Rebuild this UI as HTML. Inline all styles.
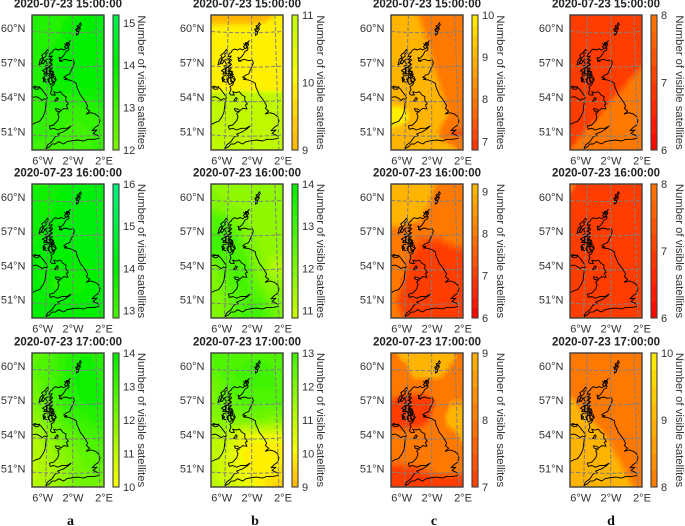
<!DOCTYPE html>
<html lang="en">
<head>
<meta charset="utf-8">
<title>Number of visible satellites over the UK</title>
<style>
html,body{margin:0;padding:0;background:#fff;width:685px;height:526px;overflow:hidden}
svg{display:block;font-family:"Liberation Sans",Arial,sans-serif}
</style>
</head>
<body>
<svg id="figure" width="685" height="526" viewBox="0 0 685 526" xmlns="http://www.w3.org/2000/svg">
<defs>
<filter id="soften" x="-10%" y="-10%" width="120%" height="120%"><feGaussianBlur stdDeviation="0.9"/></filter>
</defs>
</svg>
<script>
// ---------- chart data ----------
const timeLabels = ["2020-07-23 15:00:00", "2020-07-23 16:00:00", "2020-07-23 17:00:00"];
const columnLetters = ["a", "b", "c", "d"];
const latTicks = [60, 57, 54, 51];
const lonTicks = [-6, -2, 2];

const a1 = [
[13.4,13.4,13.4,13.6,14,14.1,14.2],[13.4,13.4,13.5,13.9,14,14.1,14.2],[13.4,13.5,13.7,14,14,14.1,14.1],
[13.4,13.6,13.9,14,14,14,14],[13.4,13.6,13.8,13.9,14,14,14],[13.3,13.4,13.6,13.5,13.5,13.6,13.8],
[13.3,13.3,13.3,13.2,13.2,13.3,13.5],[13.3,13.2,13.2,13,13,13.1,13.3],[13,13,13,13,13,13.1,13.3]];
const b1 = [
[9,9,9,9,9,9.4,10],[10,10,10,10,10,10,10],[10,10,10,10,10,10,10],
[10,10,10,10,10,10,10],[10,10,10,10,10,10,10],[11,11,11,11,11,11,11],
[11,11,11,11,11,11,11],[11,11,11,11,11,11,11],[11,11,11,11,11,11,11]];
const c1 = [
[9,9,8.65,8.15,8,8,8],[9,9,8.86,8.36,8,8,8],[9,9,9,8.61,8.11,8,8],
[9,9,9,8.75,8.25,8,8],[9,9,9,8.99,8.49,8,8],[9.2,9,9,9,8.72,8.22,8],
[10,10,9,9,8.9,8.4,8],[9.3,9,9,9,8.5,7.4,7.4],[9,9,9,9,9,9,8]];
const d1 = [
[7,7,7,7,7,7,7],[7,7,7,7,7,7,7],[7,7,7,7,7,7,7],
[7,7,7,7,7,7,7.5],[7,7,7,7,7.14,7.64,8],[7,7,7,7.26,7.76,8,8],
[7,7,7.32,7.82,8,8,8],[7,7.44,7.94,8,8,8,8],[7.5,8,8,8,8,8,8]];

const a2 = [
[13.6,13.6,13.7,14,14.2,14.3,14.3],[13.7,13.7,13.9,14.2,14.3,14.3,14.3],[13.7,13.7,14,14.2,14.3,14.3,14.3],
[13.7,13.9,14.1,14.2,14.3,14.3,14.3],[13.9,14,14.1,14.1,14.2,14.2,14.2],[13.9,13.8,13.8,13.9,13.9,14.1,14.2],
[14,13.8,13.5,13.8,13.7,14,14.2],[14,14,13.9,13.9,14,14.1,14.2],[14,14,14,14,14,14.1,14.1]];
const b2 = [
[11.7,11.7,11.7,11.7,11.7,11.7,11.7],[12,11.7,11.7,11.7,11.7,11.7,11.7],[12.7,12.6,12,11.7,11.7,11.7,11.7],
[12.8,12.8,12.7,12,11.7,11.7,11.7],[12.8,12.8,12.8,12.5,11.8,11.7,11.6],[12,12.6,12.8,12.7,12,11.3,11.2],
[12,12.3,12.8,12.8,12.4,11.8,11.7],[12,12.2,12.6,12.8,12.8,12.3,12],[12,12.2,12.7,12.9,12.9,12.6,12.2]];
const c2 = [
[9,9,9,8.85,8.35,8,8],[9,9,9,8.64,8.14,8,8],[9,9,8.8,8.3,8,8,8],
[8,8,7.66,7.66,7.66,7.86,7.91],[8,7.97,7.47,7.16,7.16,7.36,7.41],[8,7.67,7.17,7,7,7,7],
[8,7.5,7,7,7,7,7],[7.75,7.25,7,7,7,7,7],[8,7.53,7.03,7,7,7,6.8]];
const d2 = [
[8,7,7,7,7,7,7],[7,7,7,7,7,7,7],[7,7,7,7,7,7,7],
[7,7,7,7,7,7,7],[7,7,7,7,7,7,7],[7,7,7,7,7,7,7],
[7,7,7,7,7,7,7],[7,7,7,7,7,7,7],[7,7,7,7,7,7,7]];

const a3 = [
[12.5,12.6,13,13.4,13.6,13.6,13.4],[12.6,12.8,13,13.5,13.7,13.7,13.5],[12.2,12.6,13,13.5,13.7,13.7,13.6],
[12,12.4,12.9,13.3,13.6,13.7,13.6],[11.7,12,12.5,13,13.1,13.4,13.4],[11.2,11.6,12,12.4,12.7,12.9,13],
[11.1,11.3,11.7,12,12.4,12.6,12.7],[11,11.2,11.4,11.8,12.3,12.4,12.6],[11.1,11.3,11.6,12,12.3,12.2,11.9]];
const b3 = [
[12.7,12.7,12.7,12.7,12.8,12.8,12.8],[12.5,12.8,12.9,13,13,12.9,12.8],[12.1,12.5,12.8,12.9,12.9,12.9,12.8],
[12,12.3,12.5,12.7,12.7,12.7,12.7],[11.8,12,12,12,12.1,12,12],[11.2,11.1,10.6,10.2,10.2,10.2,10.2],
[11,10.8,10.3,10,10,10,10],[11,10.7,10.4,10.1,10,10,9.8],[11,10.9,10.7,10.4,10.1,9.6,9.4]];
const c3 = [
[8,9,9,9,9,8.9,8],[8,8,9,9,9,8.3,8],[8,8,8,8,8,8,8],
[7.4,7,7,7,7.8,8.5,8.5],[7,7,7,7.4,8,9,9],[8,8,8,8,8,8,8.8],
[8,8,8,8,8,8,8],[7.3,7.3,7.4,7.6,7.7,7.7,7.7],[7,7,7,7,7,7,7]];
const d3 = [
[8,8,8,8,8,8,8],[8,8,8,8,8,8,8],[8,8,8,8,8,8,8],
[8.78,8.28,8,8,8,8,8],[9,8.9,8.4,8,8,8,8],[9,9,9,8.53,8.03,8,8],
[9,9,9,8.88,8.38,8,8],[9,9,9,9,8.76,8.26,8],[9,9,9,9,9,8.64,8.14]];

const panelGrids = [[a1,b1,c1,d1],[a2,b2,c2,d2],[a3,b3,c3,d3]];
const colorbarMin = [[12,9,6.8,6],[12.83,10.83,6,6],[10,9,7,8]];
const colorbarMax = [[15.19,11,10,8],[16,14,9.18,8],[14,13,9,10]];
const colorbarTicks = [
 [[12,13,14,15],[9,10,11],[7,8,9,10],[6,7,8]],
 [[13,14,15,16],[11,12,13,14],[6,7,8,9],[6,7,8]],
 [[10,11,12,13,14],[9,10,11,12,13],[7,8,9],[8,9,10]]
];

// ---------- layout ----------
const colLeft = [32, 211, 391, 570];
const rowTop = [15, 184, 353];
const rowHeight = [135, 134, 134];
const panelW = 72, CELL = 3;
const contourSharpness = [[1,3,3,3],[1,1.3,3,3],[1,1,3,3]];

// base-map outlines, in a 218 x 405 map space
const coastLines = [
 "M158 152L165 147L175 150L182 146L190 150L198 145L206 143L205 150L196 155L193 162L187 170L180 176L176 172L178 180L185 184L177 183L195 178L208 182L219 180L222 188L218 200L212 212L208 222L198 226L190 232L200 235L192 238L208 240L220 245L228 250L230 262L236 275L240 285L248 295L255 305L262 318L258 325L268 333L258 342L272 338L285 342L295 350L299 362L295 375L285 382L275 392L290 390L278 400L296 408L298 415L280 418L262 418L250 423L232 420L215 422L200 425L190 432L175 425L165 432L155 432L148 440L135 447L142 435L155 425L165 410L178 408L172 402L190 395L205 385L212 378L200 385L185 385L172 390L160 385L150 388L147 378L160 375L172 362L176 350L172 340L180 335L168 333L165 326L175 327L182 332L190 325L203 327L198 315L204 312L196 300L197 290L188 285L180 275L170 278L160 275L165 285L155 285L150 280L155 268L152 260L160 255L166 240L158 232L162 222L152 226L158 214L150 212L156 204L148 200L156 194L150 188L157 180L150 176L156 168L146 170L150 160L155 158Z",
 "M116 195L120 178L128 172L124 166L134 158L142 148L145 156L136 162L138 168L128 176L124 190Z",
 "M128 178L134 184L128 192L122 188Z",
 "M136 180L146 176L152 184L146 188L156 192L148 198L140 206L134 198L144 194L138 188Z",
 "M142 200L150 206L146 214L152 220L142 222L138 212Z",
 "M126 212L136 206L142 212L136 216L140 222L130 222L134 216Z",
 "M132 228L146 226L150 234L142 238L146 246L136 246L130 238Z",
 "M146 234L156 232L154 244L160 248L150 254L146 244Z",
 "M152 226L164 230L168 240L160 246L154 238Z",
 "M128 232L136 238L130 246Z",
 "M150 214L160 216L156 226L148 224Z",
 "M240 68L236 76L230 78L233 84L226 88L230 96L228 106L234 102L236 92L240 88L238 80L243 74Z",
 "M232 80L238 84L228 92L236 96",
 "M210 122L204 128L198 128L200 134L192 140L198 146L204 140L208 134L205 128Z",
 "M196 134L206 128L200 140M192 130L198 136",
 "M163 303L170 292L174 296L168 304Z",
 "M96 262L104 258L110 262L118 260L115 267L106 268L100 264L108 260L118 262L124 268L130 276L136 284L141 292L138 304L136 320L134 336L128 350L118 364L106 368L97 373",
 "M97 292L108 290L118 295L126 301L132 296L138 298"
];

// ---------- helpers ----------
const NS = "http://www.w3.org/2000/svg";
const svg = document.getElementById("figure");
const defs = svg.querySelector("defs");
function mk(tag, attrs, parent, text) {
  const el = document.createElementNS(NS, tag);
  for (const k in attrs) el.setAttribute(k, attrs[k]);
  if (text !== undefined) el.textContent = text;
  parent.appendChild(el);
  return el;
}
function colorFor(v) {
  const h = Math.max(0, Math.min(180, (v - 6) * 15));
  const g = 240;
  if (h <= 60) return "rgb(255," + Math.round(h / 60 * g) + ",0)";
  if (h <= 120) return "rgb(" + Math.round((120 - h) / 60 * 255) + "," + Math.round(g + (120 - h) / 60 * 12) + ",0)";
  return "rgb(0," + g + "," + Math.round((h - 120) / 60 * 255) + ")";
}
function sampleGrid(grid, u, v) {
  u = Math.max(0, Math.min(1, u));
  v = Math.max(0, Math.min(1, v));
  const ny = grid.length - 1, nx = grid[0].length - 1;
  const fx = Math.min(u * nx, nx - 1e-6), fy = Math.min(v * ny, ny - 1e-6);
  const i = Math.floor(fx), j = Math.floor(fy), tx = fx - i, ty = fy - j;
  return (grid[j][i] * (1 - tx) + grid[j][i + 1] * tx) * (1 - ty) +
         (grid[j + 1][i] * (1 - tx) + grid[j + 1][i + 1] * tx) * ty;
}
function sharpen(v, k) {
  if (k === 1) return v;
  const b = Math.floor(v), f = v - b;
  return b + Math.max(0, Math.min(1, (f - 0.5) * k + 0.5));
}
function quant(v) { return Math.round(v * 4) / 4; }
// projection: slight convergence of meridians toward the north
function lonX(lon, t) { // t: 0 top .. 1 bottom
  const atTop = 40.7 + (lon + 2) * 5.8, atBottom = 40.7 + (lon + 2) * 6.8;
  return atTop + (atBottom - atTop) * t;
}
function latY(lat, h) { return (17.3 + (60 - lat) * 11.5) * h / 135; }
function lonLabel(l) { return Math.abs(l) + "°" + (l < 0 ? "W" : "E"); }

// ---------- draw ----------
mk("rect", {x:0, y:0, width:685, height:526, fill:"#fff"}, svg);

rowTop.forEach(function (top, r) {
  colLeft.forEach(function (left, c) {
    const h = rowHeight[r], grid = panelGrids[r][c];
    const clipId = "clip-" + r + "-" + c;
    const clip = mk("clipPath", {id:clipId}, defs);
    mk("rect", {x:0, y:0, width:panelW, height:h}, clip);

    const panel = mk("g", {transform:"translate(" + left + "," + top + ")"}, svg);
    
    

    const title = mk("text", {x:36, y:-7.5, "text-anchor":"middle", "font-size":"11.5", "font-weight":"bold", fill:"#222"}, panel, timeLabels[r]);
    
    

    const clipG = mk("g", {"clip-path":"url(#" + clipId + ")"}, panel);
    
    

    const heat = mk("g", {filter:"url(#soften)"}, clipG);
    
    
    for (let y = -2 * CELL; y < h + 2 * CELL; y += CELL) {
      for (let x = -2 * CELL; x < panelW + 2 * CELL; x += CELL) {
        const val = sampleGrid(grid, (x + CELL / 2) / panelW, (y + CELL / 2) / h);
        const cell = mk("rect", {x:x, y:y, width:CELL + 0.5, height:CELL + 0.5, fill:colorFor(quant(sharpen(val, contourSharpness[r][c])))}, heat);
        
        
      }
    }

    const coast = mk("g", {transform:"scale(" + (1 / 3) + "," + (h / 405) + ") translate(-95,-45)", fill:"none", stroke:"#000", "stroke-width":"2.8", "stroke-linejoin":"round"}, clipG);
    
    
    coastLines.forEach(function (d) {
      const p = mk("path", {d:d}, coast);
      
      
    });

    const gridG = mk("g", {fill:"none", stroke:"#808080", "stroke-width":"1", "stroke-dasharray":"4 2"}, clipG);
    
    
    lonTicks.forEach(function (lon, li) {
      const l = mk("line", {x1:lonX(lon, 0), y1:0, x2:lonX(lon, 1), y2:h}, gridG);
      
      
      const t = mk("text", {x:[10.7, 41, 72][li], y:h + 14.5, "text-anchor":"middle", "font-size":"11", fill:"#333"}, panel, lonLabel(lon));
      
      
    });
    latTicks.forEach(function (lat) {
      const y = latY(lat, h);
      const l = mk("path", {d:"M0 " + (y - 0.8) + "Q36 " + (y + 1.6) + " 72 " + (y - 0.8)}, gridG);
      
      
      const t = mk("text", {x:-6.5, y:y - 0.2, "text-anchor":"end", "font-size":"11", fill:"#333"}, panel, lat + "°N");
      
      
    });

    const frame = mk("rect", {x:0, y:0, width:panelW, height:h, fill:"none", stroke:"#3f3f3f", "stroke-width":"1.4"}, panel);
    
    

    // colorbar
    const lo = colorbarMin[r][c], hi = colorbarMax[r][c];
    const cbY = function (v) { return h * (hi - v) / (hi - lo); };
    const cb = mk("g", {transform:"translate(81,0)"}, panel);
    
    
    const steps = Math.round((hi - lo) * 4);
    for (let i = 0; i < steps; i++) {
      const a = lo + (hi - lo) * i / steps, b = lo + (hi - lo) * (i + 1) / steps;
      const s = mk("rect", {x:0, y:cbY(b), width:6, height:cbY(a) - cbY(b) + 0.4, fill:colorFor((a + b) / 2), "shape-rendering":"crispEdges"}, cb);
      
      
    }
    const cbFrame = mk("rect", {x:0, y:0, width:6, height:h, fill:"none", stroke:"#3f3f3f", "stroke-width":"1.1"}, cb);
    
    
    colorbarTicks[r][c].forEach(function (tick) {
      const t = mk("text", {x:10, y:cbY(tick) + 3.8, "font-size":"11", fill:"#333"}, cb, String(tick));
      
      
    });
    const cbTitle = mk("text", {transform:"translate(106," + (h / 2) + ") rotate(90)", "text-anchor":"middle", "font-size":"11.3", fill:"#333"}, panel, "Number of visible satellites");
    
    
  });
});

const letterX = [70.5, 255, 434, 611];
columnLetters.forEach(function (letter, c) {
  const t = mk("text", {x:letterX[c], y:525, "text-anchor":"middle", "font-size":"14", "font-weight":"bold", "font-family":"'Liberation Serif',serif", fill:"#111"}, svg, letter);
  
  
});
</script>
</body>
</html>
